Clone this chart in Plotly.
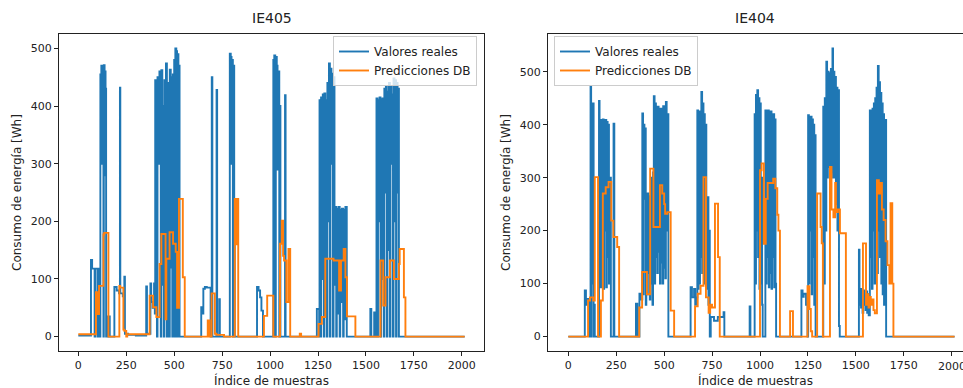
import plotly.graph_objects as go

# ---------------- data (sample index where a level starts, level value) ----------------
n_samples = 2016
x_ticks = [0, 250, 500, 750, 1000, 1250, 1500, 1750, 2000]
y_ticks = [0, 100, 200, 300, 400, 500]
titles = ["IE405", "IE404"]
series_names = ["Valores reales", "Predicciones DB"]

ie405_real_idx = [0, 66, 72, 85, 88, 100, 103, 112, 115, 120, 124, 127, 131, 133, 137, 139, 142, 145, 148, 153, 160, 164,
                  188, 200, 212, 217, 219, 232, 240, 243, 260, 300, 354, 358, 376, 380, 388, 395, 399,
                  401, 410, 413, 420, 423, 430, 433, 438, 441, 446, 449, 454, 457, 462, 465, 470, 474, 477, 482, 485, 490,
                  493, 497, 500, 503, 506, 511, 515, 518, 522, 525, 528,
                  641, 648, 652, 660, 670, 690, 696, 699, 721, 724, 735, 738,
                  790, 795, 799, 802, 806, 809, 813, 816,
                  932, 940, 948, 955, 963,
                  1017, 1022, 1027, 1030, 1035, 1039, 1043, 1048, 1050, 1054, 1078, 1081,
                  1244, 1256, 1258, 1263, 1266, 1272, 1275, 1280, 1283, 1288, 1291, 1296, 1299, 1304, 1307, 1312, 1315, 1320,
                  1323, 1328, 1331, 1336, 1339, 1345, 1348, 1354, 1357, 1363, 1366, 1372, 1375, 1381, 1384, 1390, 1393, 1400,
                  1523, 1528, 1543, 1547, 1555, 1560, 1563, 1568, 1571, 1576, 1579, 1584, 1587, 1593, 1596, 1601, 1604, 1609,
                  1612, 1617, 1620, 1625, 1628, 1633, 1636, 1641, 1644, 1649, 1652, 1657, 1660, 1665, 1668, 1672, 2015]
ie405_real_val = [2, 133, 118, 0, 118, 0, 118, 0, 455, 470, 300, 465, 0, 471, 280, 460, 430, 0, 35, 0, 35, 0,
                  86, 80, 75, 432, 75, 70, 104, 5, 3, 2, 87, 5, 92, 60, 50, 92, 40,
                  445, 0, 450, 300, 460, 0, 462, 90, 400, 0, 445, 100, 474, 0, 440, 380, 0, 463, 120, 450, 0,
                  455, 200, 480, 0, 500, 495, 0, 490, 300, 470, 0,
                  51, 40, 83, 86, 85, 0, 450, 0, 428, 0, 65, 0,
                  491, 485, 300, 480, 0, 470, 200, 0,
                  86, 80, 68, 45, 0,
                  480, 488, 0, 485, 470, 290, 460, 0, 400, 0, 419, 0,
                  48, 0, 410, 0, 415, 100, 420, 0, 422, 60, 410, 0, 440, 200, 474, 0, 465, 300,
                  456, 0, 450, 90, 225, 0, 222, 40, 225, 0, 220, 60, 222, 0, 220, 30, 225, 0,
                  48, 0, 42, 0, 413, 0, 410, 200, 415, 0, 412, 100, 413, 0, 430, 250, 433, 0,
                  425, 150, 440, 0, 435, 300, 420, 0, 448, 200, 445, 0, 440, 250, 430, 0, 0]

ie405_pred_idx = [0, 92, 99, 108, 131, 135, 157, 214, 218, 235, 240, 250, 255,
                  372, 390, 407, 424, 433, 455, 459, 476, 494, 508, 515, 525, 545, 555,
                  675, 684, 695, 712, 720, 760, 816, 823, 828, 834, 968, 985, 1017,
                  1052, 1061, 1068, 1073, 1085, 1096, 1105, 1155, 1162,
                  1253, 1270, 1288, 1331, 1360, 1370, 1384, 1393, 1401, 1445,
                  1576, 1590, 1602, 1625, 1646, 1672, 1676, 1698, 1706, 2015]
ie405_pred_val = [4, 77, 39, 88, 177, 180, 0, 88, 85, 12, 10, 0, 4,
                  71, 51, 34, 126, 178, 30, 135, 181, 161, 147, 50, 239, 103, 0,
                  28, 0, 75, 5, 3, 0, 239, 160, 239, 0, 36, 71, 0,
                  161, 201, 140, 132, 60, 152, 0, 5, 0,
                  22, 34, 135, 132, 80, 132, 152, 103, 35, 0,
                  132, 54, 103, 132, 100, 126, 152, 68, 0, 0]

ie404_real_idx = [0, 86, 92, 95, 112, 116, 119, 121, 125, 128, 132, 135, 138,
                  160, 163, 166, 170, 173, 177, 180, 184, 187, 191, 194, 198, 201, 205, 208, 212, 216, 222, 236, 240,
                  353, 360, 371, 380, 386, 390, 393, 397, 400, 404, 407, 411, 414, 418, 421, 425, 428, 432, 435, 439, 442,
                  446, 450, 453, 457, 460, 464, 467, 471, 474, 478, 481, 485, 488, 492, 495, 499, 502, 506, 509, 513, 516, 522,
                  638, 645, 656, 662, 668, 673, 677, 680, 684, 687, 691, 694, 698, 701, 705, 708, 712, 716, 720, 724, 727,
                  731, 734, 738, 743, 760, 780, 810, 814,
                  946, 950, 972, 976, 979, 983, 986, 990, 993, 997, 1000, 1004, 1007, 1011, 1014,
                  1028, 1032, 1035, 1039, 1042, 1046, 1049, 1053, 1056, 1060, 1063, 1067, 1070, 1074, 1077, 1081, 1084,
                  1216, 1222, 1228, 1240, 1248, 1251, 1255, 1258, 1262, 1265, 1269, 1272, 1276, 1279, 1283, 1286, 1290,
                  1330, 1334, 1338, 1342, 1346, 1350, 1354, 1358, 1362, 1366, 1370, 1374, 1378, 1381, 1384, 1388, 1392,
                  1396, 1400, 1404, 1408, 1412, 1416,
                  1516, 1519, 1523, 1527, 1531, 1535, 1539, 1543, 1547, 1551, 1555, 1559, 1563, 1567,
                  1573, 1577, 1580, 1584, 1587, 1591, 1594, 1598, 1601, 1605, 1608, 1612, 1615, 1619, 1622, 1626, 1629,
                  1633, 1636, 1640, 1643, 1647, 1650, 1658, 2015]
ie404_real_val = [0, 87, 60, 71, 0, 473, 0, 427, 100, 440, 0, 60, 0,
                  445, 200, 405, 93, 409, 150, 410, 90, 400, 200, 409, 93, 405, 150, 400, 100, 300, 0, 402, 0,
                  62, 0, 81, 70, 421, 80, 400, 260, 393, 60, 265, 80, 270, 120, 260, 70, 265, 100, 300, 60, 310,
                  454, 100, 440, 150, 430, 120, 434, 160, 425, 100, 430, 140, 420, 100, 435, 130, 428, 110, 443, 200, 420, 0,
                  93, 74, 90, 60, 74, 427, 90, 421, 100, 425, 150, 462, 120, 440, 300, 420, 100, 400, 263, 90, 263,
                  60, 200, 0, 37, 30, 37, 46, 0,
                  57, 0, 420, 100, 456, 200, 465, 150, 450, 90, 440, 100, 300, 60, 0,
                  427, 100, 420, 150, 427, 93, 420, 120, 425, 90, 415, 150, 420, 93, 410, 100, 0,
                  87, 75, 81, 60, 0, 418, 100, 410, 200, 415, 80, 410, 150, 400, 60, 380, 0,
                  434, 100, 450, 200, 519, 300, 500, 320, 497, 300, 505, 310, 544, 300, 500, 300, 490,
                  250, 470, 200, 465, 20, 0,
                  164, 60, 90, 55, 85, 45, 87, 60, 80, 50, 85, 45, 80, 40,
                  427, 150, 420, 90, 430, 200, 440, 100, 450, 250, 470, 120, 511, 200, 480, 150, 460,
                  100, 440, 80, 420, 60, 409, 0, 0]

ie404_pred_idx = [0, 103, 113, 130, 138, 155, 170, 180, 195, 210, 224, 235, 255, 265,
                  370, 385, 398, 410, 427, 444, 478, 490, 500, 505, 517, 534, 552,
                  661, 675, 690, 705, 718, 732, 740, 750, 765, 781, 790,
                  1000, 1008, 1020, 1030, 1040, 1069, 1080, 1090, 1096, 1104,
                  1157, 1172, 1248, 1258, 1265, 1272, 1298, 1316, 1322, 1328,
                  1365, 1373, 1383, 1392, 1396, 1406, 1417, 1448,
                  1537, 1553, 1560, 1566, 1572, 1578, 1585, 1592, 1599, 1610, 1620, 1628, 1636, 1645, 1655, 1665,
                  1675, 1681, 1690, 1696, 2015]
ie404_pred_val = [0, 68, 74, 68, 301, 0, 68, 270, 282, 292, 219, 188, 169, 0,
                  55, 122, 122, 80, 317, 207, 286, 270, 250, 232, 235, 49, 0,
                  57, 81, 96, 301, 74, 45, 60, 55, 251, 150, 0,
                  314, 327, 175, 260, 290, 298, 280, 230, 200, 0,
                  48, 0, 95, 52, 10, 0, 270, 207, 176, 0,
                  320, 240, 225, 290, 235, 240, 195, 0,
                  176, 60, 80, 55, 75, 60, 70, 50, 44, 295, 270, 290, 240, 220, 180, 135,
                  100, 252, 100, 0, 0]

colors = ["#1f77b4", "#ff7f0e"]

# ---------------- figure ----------------
W, H = 963, 388
top, bottom = 34, 351
plot_h = bottom - top

fig = go.Figure()

panels = [
    (ie405_real_idx, ie405_real_val, ie405_pred_idx, ie405_pred_val, "x", "y", "legend"),
    (ie404_real_idx, ie404_real_val, ie404_pred_idx, ie404_pred_val, "x2", "y2", "legend2"),
]
for (ri, rv, pi, pv, xa, ya, lg) in panels:
    for name, xs, ys, c in [(series_names[0], ri, rv, colors[0]), (series_names[1], pi, pv, colors[1])]:
        fig.add_trace(go.Scatter(x=xs, y=ys, mode="lines", name=name, line=dict(color=c, width=1.9, shape="hv"),
                                 xaxis=xa, yaxis=ya, legend=lg, showlegend=True, hoverinfo="skip"))

tick_font = dict(family="DejaVu Sans", size=11, color="#222")
axis_common = dict(showgrid=False, zeroline=False, ticks="outside", ticklen=4, tickwidth=1, tickcolor="#222",
                   showline=True, linecolor="#222", linewidth=1, tickfont=tick_font)

legend_y = (bottom - 36) / plot_h
fig.update_layout(
    width=W, height=H,
    margin=dict(l=0, r=0, t=top, b=H - bottom),
    paper_bgcolor="white", plot_bgcolor="white",
    showlegend=True,
    xaxis=dict(domain=[59 / W, 484 / W], range=[-100.75, 2115.75], tickvals=x_ticks, mirror=True, anchor="y", **axis_common),
    yaxis=dict(domain=[0, 1], range=[-25, 525], tickvals=y_ticks, mirror=True, anchor="x", **axis_common),
    xaxis2=dict(domain=[548 / W, 1.0], range=[-106, 2059], tickvals=x_ticks, mirror=True, anchor="y2", **axis_common),
    yaxis2=dict(domain=[0, 1], range=[-27.2, 571.2], tickvals=y_ticks, mirror=False, anchor="x2", **axis_common),
    legend=dict(x=477 / W, y=legend_y, xanchor="right", yanchor="top", xref="paper", yref="paper",
                bgcolor="rgba(255,255,255,0.8)", bordercolor="#cccccc", borderwidth=1,
                font=dict(family="DejaVu Sans", size=12, color="#222"), tracegroupgap=0, itemwidth=30),
    legend2=dict(x=554 / W, y=legend_y, xanchor="left", yanchor="top", xref="paper", yref="paper",
                 bgcolor="rgba(255,255,255,0.8)", bordercolor="#cccccc", borderwidth=1,
                 font=dict(family="DejaVu Sans", size=12, color="#222"), tracegroupgap=0, itemwidth=30),
)

# the last x tick label of the right panel is cut by the figure edge in the reference
fig.add_annotation(x=x_ticks[-1], xref="x2", y=-(366 - bottom) / plot_h, yref="paper", text=str(x_ticks[-1]),
                   showarrow=False, font=tick_font, xanchor="center", yanchor="middle")

ann_font = dict(family="DejaVu Sans", size=12, color="#222")
for cx, title in [(271.5, titles[0]), (755, titles[1])]:
    fig.add_annotation(x=cx / W, y=1 + (top - 18) / plot_h, xref="paper", yref="paper", text=title, showarrow=False,
                       font=dict(family="DejaVu Sans", size=14, color="#222"), xanchor="center", yanchor="middle")
    fig.add_annotation(x=cx / W, y=-(380 - bottom) / plot_h, xref="paper", yref="paper", text="Índice de muestras",
                       showarrow=False, font=ann_font, xanchor="center", yanchor="middle")
for lx in [17, 506]:
    fig.add_annotation(x=lx / W, y=(bottom - 193) / plot_h, xref="paper", yref="paper", text="Consumo de energía [Wh]",
                       showarrow=False, font=ann_font, textangle=-90, xanchor="center", yanchor="middle")

fig.write_html("out.html", config={"displayModeBar": False},
               post_script="document.body.style.margin='0px';document.body.style.overflow='hidden';")
